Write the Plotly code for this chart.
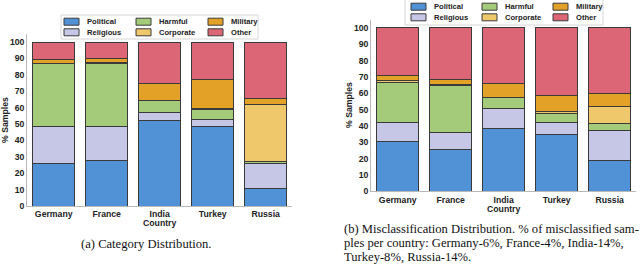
import plotly.graph_objects as go

W, H = 640, 265

countries = ["Germany", "France", "India", "Turkey", "Russia"]
categories = ["Political", "Religious", "Harmful", "Corporate", "Military", "Other"]
colors = ["#5192d6", "#c6c7e7", "#a3cb7a", "#efc86b", "#e3a127", "#dd6676"]
yticks = [0, 10, 20, 30, 40, 50, 60, 70, 80, 90, 100]

# (a) Category distribution (% samples)
a_political = [25.8, 27.6, 52.0, 48.4, 10.4]
a_religious = [22.6, 20.8, 5.1, 4.4, 15.4]
a_harmful = [38.2, 38.6, 7.1, 6.3, 1.2]
a_corporate = [0.4, 0.3, 0.3, 0.3, 35.0]
a_military = [2.6, 2.5, 10.1, 17.8, 3.4]
a_other = [10.4, 10.2, 25.4, 22.8, 34.6]

# (b) Misclassification distribution (% samples)
b_political = [30.4, 25.5, 38.6, 34.5, 19.0]
b_religious = [11.8, 10.6, 12.2, 7.7, 18.3]
b_harmful = [24.3, 28.8, 6.8, 5.6, 4.3]
b_corporate = [1.2, 0.5, 0.0, 0.8, 10.2]
b_military = [3.1, 2.8, 8.5, 9.8, 8.0]
b_other = [29.2, 31.8, 33.9, 41.6, 40.2]

series_a = [a_political, a_religious, a_harmful, a_corporate, a_military, a_other]
series_b = [b_political, b_religious, b_harmful, b_corporate, b_military, b_other]

caption_a = "(a) Category Distribution."
caption_b = [
    "(b) Misclassification Distribution. % of misclassified sam-",
    "ples per country: Germany-6%, France-4%, India-14%,",
    "Turkey-8%, Russia-14%.",
]


def px(x):
    return x / W


def py(y):
    return 1 - y / H


fig = go.Figure()
for i, name in enumerate(categories):
    fig.add_trace(go.Bar(x=countries, y=series_a[i], name=name, marker_color=colors[i],
                         marker_line=dict(color="#3a3a3a", width=1), width=0.8,
                         xaxis="x", yaxis="y", showlegend=False))
for i, name in enumerate(categories):
    fig.add_trace(go.Bar(x=countries, y=series_b[i], name=name, marker_color=colors[i],
                         marker_line=dict(color="#3a3a3a", width=1), width=0.8,
                         xaxis="x2", yaxis="y2", showlegend=False))

tickfont = dict(family="Liberation Sans", size=8.7, color="#222", weight="bold")
axis_common = dict(showgrid=False, zeroline=False, showline=True, linecolor="#b8b8b8",
                   linewidth=1, ticks="", tickfont=tickfont, automargin=False)

fig.update_layout(
    width=W, height=H, margin=dict(l=0, r=0, t=0, b=0, autoexpand=False),
    paper_bgcolor="white", plot_bgcolor="white", barmode="stack", bargap=0.2,
    xaxis=dict(domain=[px(27.2), px(292.2)], anchor="y", range=[-0.5, 4.5], **axis_common),
    yaxis=dict(domain=[py(206), py(33.8)], anchor="x", range=[0, 105], tickvals=yticks,
               **axis_common),
    xaxis2=dict(domain=[px(371.2), px(636.2)], anchor="y2", range=[-0.5, 4.5], **axis_common),
    yaxis2=dict(domain=[py(191.3), py(19.8)], anchor="x2", range=[0, 105], tickvals=yticks,
                **axis_common),
)

shapes = []
annots = []


def add_legend(box, sym_x0, col_pitch, rows_y):
    x0, y0, x1, y1 = box
    shapes.append(dict(type="rect", xref="paper", yref="paper", x0=px(x0), x1=px(x1),
                       y0=py(y1), y1=py(y0), fillcolor="rgba(255,255,255,0.85)",
                       line=dict(color="#d6d6d6", width=1), layer="above"))
    # column-major order: 2 rows x 3 columns
    for i, name in enumerate(categories):
        col = i // 2
        row = i % 2
        sx = sym_x0 + col * col_pitch
        sy = rows_y[row]
        shapes.append(dict(type="rect", xref="paper", yref="paper", x0=px(sx), x1=px(sx + 15),
                           y0=py(sy + 3.5), y1=py(sy - 3.5), fillcolor=colors[i],
                           line=dict(color="#3a3a3a", width=1), layer="above"))
        annots.append(dict(x=px(sx + 21), y=py(sy), xref="paper", yref="paper", text=name,
                           showarrow=False, xanchor="left", yanchor="middle",
                           font=dict(family="Liberation Sans", size=7.6, color="#222",
                                     weight="bold")))


add_legend((61, 15, 258, 39), 64, 72, [21.7, 32.3])
add_legend((405, -1, 603, 25), 411, 71, [6.7, 17.3])

label_font = dict(family="Liberation Sans", size=8.7, color="#222", weight="bold")


def label(x, y, text, font, angle=0, xanchor="center"):
    annots.append(dict(x=px(x), y=py(y), xref="paper", yref="paper", text=text,
                       textangle=angle, showarrow=False, xanchor=xanchor, yanchor="middle",
                       font=font))


label(5, 120, "% Samples", label_font, angle=-90)
label(348.5, 105.5, "% Samples", label_font, angle=-90)
label(159.7, 223.2, "Country", label_font)
label(503.7, 208.8, "Country", label_font)

cap_font = dict(family="Liberation Serif", size=12.6, color="#111")
label(146, 244, caption_a, cap_font)
for k, line in enumerate(caption_b):
    label(341.5, 229.3 + k * 13.7, line, cap_font, xanchor="left")

fig.update_layout(shapes=shapes, annotations=annots)
fig.write_html("out.html", post_script="document.body.style.margin='0';",
               config={"displayModeBar": False})
